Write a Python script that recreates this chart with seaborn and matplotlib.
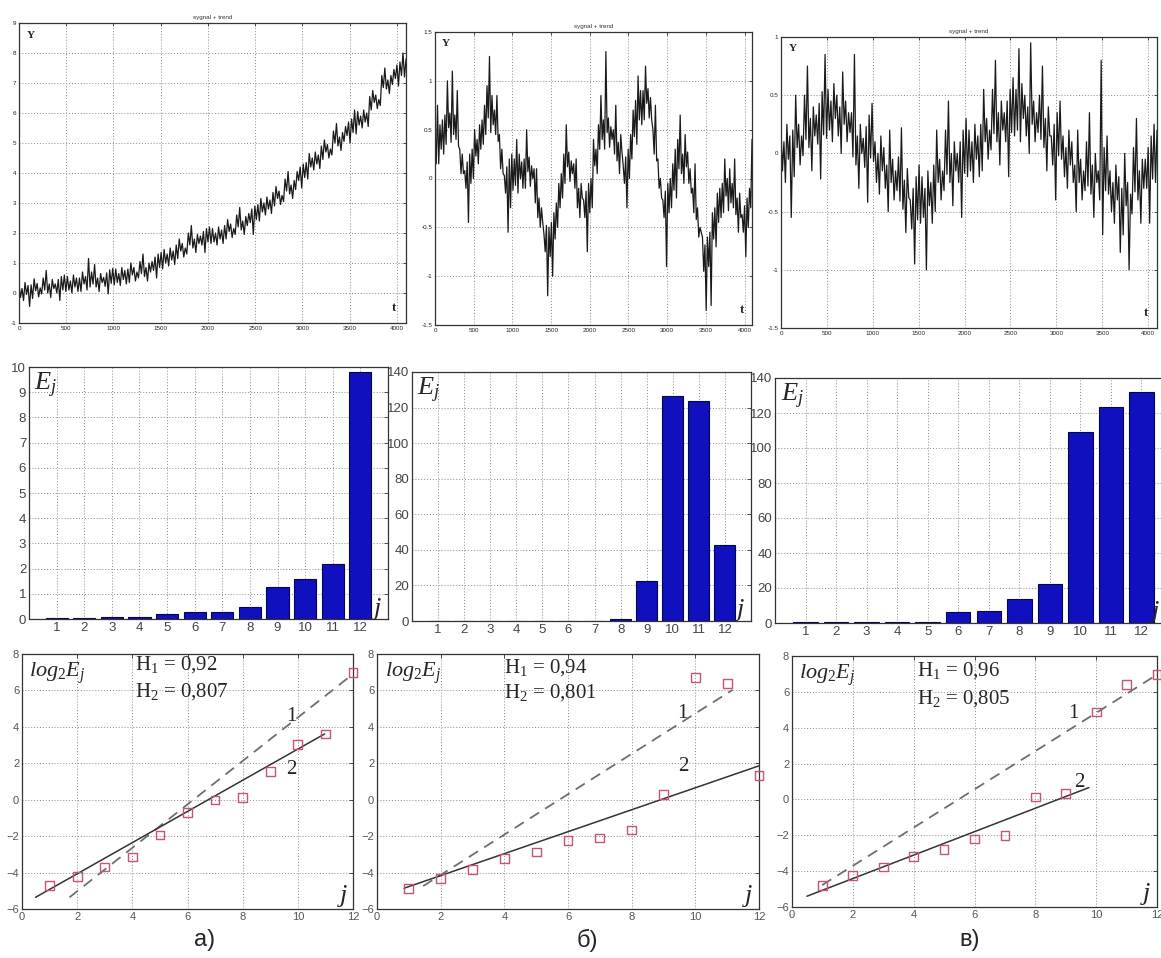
import numpy as np
import pandas as pd
import matplotlib
matplotlib.use("Agg")
import matplotlib.pyplot as plt
import seaborn as sns

sns.set_theme(style="white")
plt.rcParams['font.family'] = ['Liberation Sans', 'DejaVu Sans']
plt.rcParams['mathtext.fontset'] = 'custom'
plt.rcParams['mathtext.rm'] = 'Liberation Serif'
plt.rcParams['mathtext.it'] = 'Liberation Serif:italic'
plt.rcParams['mathtext.bf'] = 'Liberation Serif:bold'

# ---------------- data ----------------
N_SAMPLES = 4096
signal_a = [
    0.3, -0.15, 0.15, -0.25, 0.35, -0.05, 0.25, -0.45,
    0.27, -0.18, 0.47, 0.07, 0.32, -0.13, 0.17, -0.03,
    0.5, 0.1, 0.75, 0.0, 0.3, -0.15, 0.45, 0.15,
    0.3, 0.0, 0.45, -0.25, 0.55, 0.1, 0.6, 0.05,
    0.55, 0.1, 0.4, 0.0, 0.6, 0.2, 0.5, 0.05,
    0.5, 0.05, 0.7, 0.3, 0.55, 0.1, 1.15, 0.2,
    0.7, 0.3, 0.95, 0.2, 0.5, 0.05, 0.65, 0.35,
    0.52, 0.22, 0.67, -0.03, 0.77, 0.32, 0.82, 0.27,
    0.8, 0.35, 0.65, 0.25, 0.85, 0.45, 0.75, 0.3,
    0.8, 0.35, 1.0, 0.6, 0.85, 0.4, 0.7, 0.5,
    1.05, 0.65, 1.3, 0.55, 0.85, 0.4, 1.0, 0.7,
    1.05, 0.75, 1.2, 0.5, 1.3, 0.85, 1.35, 0.8,
    1.45, 1.0, 1.3, 0.9, 1.5, 1.1, 1.4, 0.95,
    1.6, 1.15, 1.8, 1.4, 1.65, 1.2, 1.5, 1.3,
    2.0, 1.6, 2.25, 1.5, 1.8, 1.35, 1.95, 1.65,
    1.9, 1.6, 2.05, 1.35, 2.15, 1.7, 2.2, 1.65,
    2.15, 1.7, 2.0, 1.6, 2.2, 1.8, 2.1, 1.65,
    2.25, 1.8, 2.45, 2.05, 2.3, 1.85, 2.15, 1.95,
    2.6, 2.2, 2.85, 2.1, 2.4, 1.95, 2.55, 2.25,
    2.65, 2.35, 2.8, 1.95, 2.9, 2.45, 2.95, 2.4,
    3.15, 2.7, 3.0, 2.6, 3.2, 2.8, 3.1, 2.65,
    3.35, 2.9, 3.55, 3.15, 3.4, 2.95, 3.25, 3.05,
    3.8, 3.4, 4.05, 3.3, 3.6, 3.15, 3.75, 3.45,
    4.05, 3.75, 4.2, 3.5, 4.3, 3.85, 4.35, 3.8,
    4.65, 4.2, 4.5, 4.1, 4.7, 4.3, 4.6, 4.15,
    4.9, 4.45, 5.1, 4.7, 4.95, 4.5, 4.8, 4.6,
    5.4, 5.0, 5.65, 4.9, 5.2, 4.75, 5.35, 5.05,
    5.55, 5.25, 5.7, 5.0, 5.8, 5.35, 6.1, 5.3,
    6.05, 5.6, 5.9, 5.5, 6.1, 5.7, 6.0, 5.55,
    6.55, 6.1, 6.75, 6.35, 6.6, 6.15, 6.45, 6.25,
    7.25, 6.85, 7.5, 6.8, 7.1, 6.65, 7.25, 6.95,
    7.45, 7.15, 7.6, 6.9, 7.7, 7.25, 8.0, 7.2,
    7.8]
signal_b = [
    0.5, 0.15, 0.75, 0.15, 0.55, 0.3, 0.6, 0.25,
    0.65, 0.35, 1.0, 0.52, 0.67, 0.37, 1.1, 0.45,
    0.65, 0.4, 0.9, 0.33, 0.3, 0.05, 0.25, 0.05,
    0.08, -0.1, 0.17, -0.45, 0.25, -0.05, 0.3, 0.0,
    0.5, 0.23, 0.4, 0.15, 0.55, 0.3, 0.6, 0.35,
    0.75, 0.45, 0.95, 0.62, 1.25, 0.47, 0.85, 0.55,
    0.7, 0.45, 0.85, 0.38, 0.45, 0.1, 0.3, 0.05,
    0.03, -0.15, 0.12, -0.55, 0.2, -0.3, 0.25, -0.12,
    0.2, -0.07, 0.4, -0.15, 0.25, 0.0, 0.17, -0.1,
    0.2, -0.1, 0.5, 0.07, 0.22, -0.08, 0.13, 0.0,
    0.1, -0.25, 0.1, -0.4, -0.2, -0.5, -0.3, -0.45,
    -0.57, -0.75, -0.48, -1.2, -0.5, -0.8, -0.45, -1.0,
    -0.35, -0.62, -0.25, -0.5, -0.05, -0.3, 0.05, -0.2,
    0.25, -0.05, 0.55, 0.12, 0.27, -0.03, 0.18, 0.05,
    0.15, -0.1, 0.2, -0.3, -0.1, -0.4, -0.05, -0.2,
    -0.22, -0.4, -0.13, -0.75, -0.05, -0.35, 0.0, -0.3,
    0.4, 0.13, 0.3, 0.05, 0.55, 0.3, 0.85, 0.4,
    0.6, 0.3, 1.3, 0.47, 0.62, 0.32, 0.53, 0.4,
    0.5, 0.25, 0.75, 0.18, 0.37, 0.05, 0.45, 0.27,
    0.13, -0.05, 0.22, -0.3, 0.3, 0.0, 0.45, 0.2,
    0.7, 0.43, 0.8, 0.35, 1.05, 0.6, 0.9, 0.55,
    0.9, 0.6, 1.15, 0.77, 0.92, 0.62, 0.83, 0.6,
    0.5, 0.25, 0.75, 0.18, 0.2, -0.1, 0.0, -0.2,
    -0.22, -0.4, -0.13, -0.9, -0.05, -0.35, 0.0, -0.3,
    0.15, -0.12, 0.3, -0.2, 0.4, 0.1, 0.65, 0.05,
    0.25, -0.05, 0.45, 0.12, 0.27, -0.05, 0.1, -0.15,
    -0.1, -0.35, 0.15, -0.42, -0.3, -0.6, -0.5, -0.55,
    -0.6, -0.95, -0.68, -1.35, -0.6, -0.9, -0.55, -1.3,
    -0.35, -0.62, -0.3, -0.7, -0.15, -0.45, -0.1, -0.4,
    -0.05, -0.35, 0.2, -0.18, 0.0, -0.33, 0.1, -0.25,
    -0.05, -0.3, 0.2, -0.37, -0.2, -0.55, -0.15, -0.4,
    -0.37, -0.55, -0.28, -0.8, -0.2, -0.5, -0.1, -0.3,
    0.4]
signal_c = [
    0.2, -0.15, 0.1, -0.25, 0.25, -0.05, 0.15, -0.55,
    0.2, -0.2, 0.5, 0.05, 0.25, -0.1, 0.15, -0.02,
    0.5, 0.12, 0.75, 0.05, 0.3, -0.15, 0.4, 0.15,
    0.33, 0.08, 0.43, -0.22, 0.53, 0.16, 0.85, 0.13,
    0.55, 0.2, 0.45, 0.1, 0.6, 0.3, 0.5, 0.15,
    0.4, 0.0, 0.7, 0.25, 0.45, 0.1, 0.35, 0.18,
    0.35, -0.03, 0.85, -0.1, 0.15, -0.3, 0.25, 0.0,
    0.13, -0.12, 0.23, -0.42, 0.33, -0.04, 0.43, -0.07,
    0.1, -0.25, 0.0, -0.35, 0.15, -0.15, 0.05, -0.3,
    -0.1, -0.5, 0.2, -0.25, -0.05, -0.4, -0.15, -0.32,
    -0.03, -0.41, 0.22, -0.48, -0.23, -0.68, -0.13, -0.38,
    -0.4, -0.65, -0.3, -0.95, -0.2, -0.57, -0.1, -0.6,
    -0.2, -0.55, -0.3, -1.0, -0.15, -0.45, -0.25, -0.6,
    -0.1, -0.5, 0.2, -0.25, -0.05, -0.4, -0.15, -0.32,
    0.2, -0.18, 0.45, -0.25, 0.0, -0.45, 0.1, -0.15,
    0.0, -0.25, 0.1, -0.55, 0.2, -0.17, 0.3, -0.2,
    0.2, -0.15, 0.1, -0.25, 0.25, -0.05, 0.15, -0.2,
    0.25, -0.15, 0.55, 0.1, 0.3, -0.05, 0.2, 0.03,
    0.55, 0.17, 0.8, 0.1, 0.35, -0.1, 0.45, 0.2,
    0.35, 0.1, 0.45, -0.2, 0.55, 0.18, 0.65, 0.15,
    0.55, 0.2, 0.9, 0.1, 0.6, 0.3, 0.5, 0.15,
    0.4, 0.0, 0.95, 0.25, 0.45, 0.1, 0.35, 0.18,
    0.5, 0.12, 0.75, 0.05, 0.3, -0.15, 0.4, 0.15,
    0.15, -0.1, 0.25, -0.4, 0.35, -0.02, 0.45, -0.05,
    0.15, -0.2, 0.05, -0.3, 0.2, -0.1, 0.1, -0.25,
    -0.1, -0.5, 0.2, -0.25, -0.05, -0.4, -0.15, -0.32,
    0.1, -0.28, 0.35, -0.35, -0.1, -0.55, 0.0, -0.25,
    -0.15, -0.4, 0.8, -0.7, 0.05, -0.32, 0.15, -0.35,
    -0.15, -0.5, -0.25, -0.6, -0.1, -0.4, -0.2, -0.85,
    -0.3, -0.7, 0.0, -0.45, -0.25, -1.0, -0.35, -0.52,
    0.05, -0.33, 0.3, -0.4, -0.15, -0.6, -0.05, -0.3,
    -0.05, -0.3, 0.05, -0.6, 0.15, -0.22, 0.25, -0.25,
    0.2]

levels_j = [1, 2, 3, 4, 5, 6, 7, 8, 9, 10, 11, 12]
energy_a = [0.03, 0.03, 0.06, 0.09, 0.18, 0.27, 0.27, 0.47, 1.27, 1.57, 2.2, 9.82]
energy_b = [0.2, 0.2, 0.2, 0.2, 0.2, 0.2, 0.2, 1.0, 22.5, 126.5, 123.5, 43.0]
energy_c = [0.3, 0.3, 0.3, 0.3, 0.3, 6.5, 7.0, 13.5, 22.5, 109.0, 123.5, 132.0]

log_a = [-4.72, -4.21, -3.70, -3.15, -1.94, -0.70, -0.01, 0.14, 1.57, 3.03, 3.61, 6.98]
log_b = [-4.86, -4.31, -3.82, -3.24, -2.87, -2.25, -2.10, -1.66, 0.28, 6.71, 6.40, 1.33]
log_c = [-4.81, -4.25, -3.77, -3.19, -2.80, -2.21, -2.02, 0.13, 0.32, 4.88, 6.42, 6.96]

# fitted lines (endpoints): 1 = dashed, 2 = solid
fit1_a_x, fit1_a_y = [1.72, 12.0], [-5.36, 6.90]
fit2_a_x, fit2_a_y = [0.49, 10.97], [-5.36, 3.61]
fit1_b_x, fit1_b_y = [1.45, 11.17], [-4.74, 6.03]
fit2_b_x, fit2_b_y = [0.85, 12.0], [-4.86, 1.86]
fit1_c_x, fit1_c_y = [0.99, 12.0], [-4.78, 6.96]
fit2_c_x, fit2_c_y = [0.49, 9.76], [-5.40, 0.66]

hurst_1 = ["0,92", "0,94", "0,96"]
hurst_2 = ["0,807", "0,801", "0,805"]
panel_labels = ["а)", "б)", "в)"]

# ---------------- figure ----------------
W, H = 1161, 958
fig = plt.figure(figsize=(W / 100, H / 100), dpi=100)
fig.patch.set_facecolor("white")


def add_ax(left, right, top, bottom):
    return fig.add_axes([left / W, 1 - bottom / H, (right - left) / W, (bottom - top) / H])


GRID = dict(color="#8a8a8a", linestyle=(0, (1, 2)), linewidth=0.7)


def style(ax, fs, labelcolor="#222222"):
    for s in ax.spines.values():
        s.set_color("#333333")
        s.set_linewidth(0.9)
        s.set_visible(True)
    ax.tick_params(direction="in", length=3, width=0.6, labelsize=fs,
                   labelcolor=labelcolor, top=True, right=True, pad=2, colors="#333333")
    ax.grid(True, **GRID)
    ax.set_axisbelow(True)
    ax.set_xlabel("")
    ax.set_ylabel("")


# ---- top row: signals ----
top_boxes = [(19, 406, 23, 323), (435, 752, 32, 325), (781, 1157, 37, 328)]
top_ylims = [(-1, 9), (-1.5, 1.5), (-1.5, 1.0)]
top_yticks = [np.arange(-1, 10, 1), np.arange(-1.5, 1.6, 0.5), np.arange(-1.5, 1.1, 0.5)]
signals = [signal_a, signal_b, signal_c]
for box, sig, yl, yt in zip(top_boxes, signals, top_ylims, top_yticks):
    ax = add_ax(*box)
    t = np.linspace(0, N_SAMPLES, len(sig))
    df = pd.DataFrame({"t": t, "y": sig})
    sns.lineplot(data=df, x="t", y="y", ax=ax, color="#1a1a1a", linewidth=0.9)
    ax.set_xlim(0, N_SAMPLES)
    ax.set_ylim(*yl)
    ax.set_xticks(np.arange(0, 4001, 500))
    ax.set_yticks(yt)
    ax.set_yticklabels([("%g" % v) for v in yt])
    style(ax, 4.5)
    ax.tick_params(length=2)
    ax.set_title("sygnal + trend", fontsize=4.5, pad=3, color="#333333")
    ax.text(0.02, 0.975, "Y", transform=ax.transAxes, ha="left", va="top",
            fontsize=8, fontweight="bold", family="Liberation Serif")
    ax.text(0.975, 0.03, "t", transform=ax.transAxes, ha="right", va="bottom",
            fontsize=9, fontweight="bold", family="Liberation Serif")

# ---- middle row: energies ----
mid_boxes = [(29, 388, 367, 619), (412, 751, 372, 621), (775, 1172, 378, 623)]
mid_ylims = [(0, 10), (0, 140), (0, 140)]
mid_yticks = [np.arange(0, 11, 1), np.arange(0, 141, 20), np.arange(0, 141, 20)]
mid_jx = [0.985, 0.985, 0.972]
energies = [energy_a, energy_b, energy_c]
for box, en, yl, yt, jx in zip(mid_boxes, energies, mid_ylims, mid_yticks, mid_jx):
    ax = add_ax(*box)
    df = pd.DataFrame({"j": levels_j, "E": en})
    sns.barplot(data=df, x="j", y="E", ax=ax, native_scale=True, color="#1010bf",
                saturation=1, edgecolor="#05054a", linewidth=0.8, width=0.8)
    ax.set_xlim(0, 13)
    ax.set_ylim(*yl)
    ax.set_xticks(levels_j)
    ax.set_yticks(yt)
    style(ax, 9.5, labelcolor="#444444")
    ax.tick_params(top=False)
    ax.text(0.015, 0.985, r"$E_j$", transform=ax.transAxes, ha="left", va="top",
            fontsize=19)
    ax.text(jx, -0.01, r"$j$", transform=ax.transAxes, ha="right", va="bottom",
            fontsize=19)

# ---- bottom row: log2 energies with fits ----
bot_boxes = [(22, 353, 654, 909), (377, 759, 654, 909), (792, 1157, 656, 907)]
logs = [log_a, log_b, log_c]
fits = [((fit1_a_x, fit1_a_y), (fit2_a_x, fit2_a_y)),
        ((fit1_b_x, fit1_b_y), (fit2_b_x, fit2_b_y)),
        ((fit1_c_x, fit1_c_y), (fit2_c_x, fit2_c_y))]
h_pos = [(4.1, 7.4, 5.95), (4.0, 7.25, 5.9), (4.1, 7.2, 5.6)]
lab1_pos = [(9.75, 4.55), (9.6, 4.75), (9.26, 4.8)]
lab2_pos = [(9.75, 1.65), (9.62, 1.8), (9.43, 0.97)]
sub_x = [205, 587, 970]
for i, (box, lg, (f1, f2)) in enumerate(zip(bot_boxes, logs, fits)):
    ax = add_ax(*box)
    sns.lineplot(x=f1[0], y=f1[1], ax=ax, color="#6e6e6e", linewidth=1.3,
                 linestyle=(0, (6, 4)))
    sns.lineplot(x=f2[0], y=f2[1], ax=ax, color="#333333", linewidth=1.1)
    sns.scatterplot(x=levels_j, y=lg, ax=ax, marker="s", s=40,
                    facecolor="none", edgecolor="#c4566e", linewidth=1.0, zorder=5,
                    clip_on=False)
    ax.set_xlim(0, 12)
    ax.set_ylim(-6, 8)
    ax.set_xticks(np.arange(0, 13, 2))
    ax.set_yticks(np.arange(-6, 9, 2))
    style(ax, 8, labelcolor="#555555")
    ax.text(0.02, 0.975, r"$log_2E_j$", transform=ax.transAxes, ha="left", va="top",
            fontsize=16)
    hx, hy1, hy2 = h_pos[i]
    ax.text(hx, hy1, r"H$_1$ = " + hurst_1[i], ha="left", va="center", fontsize=15,
            family="Liberation Serif")
    ax.text(hx, hy2, r"H$_2$ = " + hurst_2[i], ha="left", va="center", fontsize=15,
            family="Liberation Serif")
    ax.text(*lab1_pos[i], "1", ha="center", va="center", fontsize=15,
            family="Liberation Serif")
    ax.text(*lab2_pos[i], "2", ha="center", va="center", fontsize=15,
            family="Liberation Serif")
    ax.text(0.985, 0.0, r"$j$", transform=ax.transAxes, ha="right", va="bottom",
            fontsize=19)
    fig.text(sub_x[i] / W, 1 - 940 / H, panel_labels[i], ha="center", va="center",
             fontsize=17, family=["Liberation Sans Narrow", "Liberation Sans", "DejaVu Sans"])

fig.savefig("out.png", dpi=100)
